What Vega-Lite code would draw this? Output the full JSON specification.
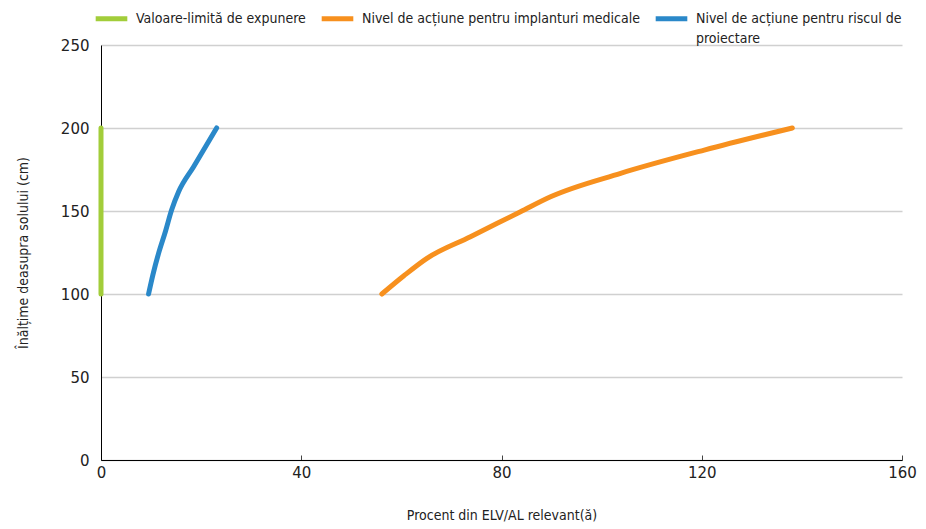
{
  "$schema": "https://vega.github.io/schema/vega-lite/v6.json",
  "width": 801,
  "height": 415,
  "autosize": "none",
  "padding": {"left": 101, "top": 45, "right": 24, "bottom": 69},
  "background": "white",
  "config": {
    "view": {"stroke": null},
    "font": "DejaVu Sans Condensed, Liberation Sans, sans-serif"
  },
  "data": {
    "values": [
      {"serie": "Valoare-limită de expunere", "ord": 1, "x": 0, "y": 100},
      {"serie": "Valoare-limită de expunere", "ord": 2, "x": 0, "y": 200},
      {"serie": "Nivel de acțiune pentru implanturi medicale", "ord": 1, "x": 56.1, "y": 100},
      {"serie": "Nivel de acțiune pentru implanturi medicale", "ord": 2, "x": 60.5, "y": 111},
      {"serie": "Nivel de acțiune pentru implanturi medicale", "ord": 3, "x": 65.1, "y": 121.5},
      {"serie": "Nivel de acțiune pentru implanturi medicale", "ord": 4, "x": 73.8, "y": 134.5},
      {"serie": "Nivel de acțiune pentru implanturi medicale", "ord": 5, "x": 83.8, "y": 149.6},
      {"serie": "Nivel de acțiune pentru implanturi medicale", "ord": 6, "x": 89.8, "y": 158.6},
      {"serie": "Nivel de acțiune pentru implanturi medicale", "ord": 7, "x": 103.8, "y": 172.7},
      {"serie": "Nivel de acțiune pentru implanturi medicale", "ord": 8, "x": 120.5, "y": 186.7},
      {"serie": "Nivel de acțiune pentru implanturi medicale", "ord": 9, "x": 138.1, "y": 200},
      {"serie": "Nivel de acțiune pentru riscul de proiectare", "ord": 1, "x": 9.5, "y": 100},
      {"serie": "Nivel de acțiune pentru riscul de proiectare", "ord": 2, "x": 10.4, "y": 112},
      {"serie": "Nivel de acțiune pentru riscul de proiectare", "ord": 3, "x": 11.5, "y": 124.5},
      {"serie": "Nivel de acțiune pentru riscul de proiectare", "ord": 4, "x": 12.9, "y": 138},
      {"serie": "Nivel de acțiune pentru riscul de proiectare", "ord": 5, "x": 14.1, "y": 150.6},
      {"serie": "Nivel de acțiune pentru riscul de proiectare", "ord": 6, "x": 15.5, "y": 161.6},
      {"serie": "Nivel de acțiune pentru riscul de proiectare", "ord": 7, "x": 18.5, "y": 176.7},
      {"serie": "Nivel de acțiune pentru riscul de proiectare", "ord": 8, "x": 23.1, "y": 200}
    ]
  },
  "mark": {"type": "line", "strokeWidth": 5, "strokeCap": "round", "strokeJoin": "round", "interpolate": "monotone"},
  "encoding": {
    "x": {
      "field": "x", "type": "quantitative",
      "scale": {"domain": [0, 160], "nice": false, "zero": false},
      "axis": {
        "values": [0, 40, 80, 120, 160],
        "title": "Procent din ELV/AL relevant(ă)",
        "titleFont": "DejaVu Sans Condensed, Liberation Sans, sans-serif",
        "titleFontSize": 14,
        "titleFontWeight": "normal",
        "titleColor": "#222222",
        "titlePadding": 28,
        "labelFont": "DejaVu Sans",
        "labelFontSize": 15,
        "labelColor": "#222222",
        "labelPadding": 10,
        "labelFlush": false,
        "grid": false,
        "domainColor": "#000000",
        "domainWidth": 1,
        "tickColor": "#444444",
        "tickSize": -5,
        "tickWidth": 1
      }
    },
    "y": {
      "field": "y", "type": "quantitative",
      "scale": {"domain": [0, 250], "nice": false},
      "axis": {
        "values": [0, 50, 100, 150, 200, 250],
        "title": "Înălțime deasupra solului (cm)",
        "titleFont": "DejaVu Sans Condensed, Liberation Sans, sans-serif",
        "titleFontSize": 14,
        "titleFontWeight": "normal",
        "titleColor": "#222222",
        "titlePadding": 30,
        "labelFont": "DejaVu Sans",
        "labelFontSize": 15,
        "labelColor": "#222222",
        "labelPadding": 12,
        "labelFlush": false,
        "ticks": false,
        "grid": true,
        "gridColor": "#d0d0d0",
        "gridWidth": 1.5,
        "domainColor": "#000000",
        "domainWidth": 1
      }
    },
    "color": {
      "field": "serie", "type": "nominal",
      "sort": ["Valoare-limită de expunere", "Nivel de acțiune pentru implanturi medicale", "Nivel de acțiune pentru riscul de proiectare"],
      "scale": {
        "domain": ["Valoare-limită de expunere", "Nivel de acțiune pentru implanturi medicale", "Nivel de acțiune pentru riscul de proiectare"],
        "range": ["#a2cd3a", "#f7901e", "#2a88c9"]
      },
      "legend": {
        "title": null,
        "orient": "none",
        "direction": "horizontal",
        "legendX": -8,
        "legendY": -45,
        "symbolType": "stroke",
        "symbolSize": 1000,
        "symbolStrokeWidth": 5,
        "labelFont": "DejaVu Sans Condensed, Liberation Sans, sans-serif",
        "labelFontSize": 14,
        "labelColor": "#222222",
        "labelLimit": 400,
        "labelOffset": 6,
        "columnPadding": 5,
        "labelBaseline": "middle",
        "encode": {
          "labels": {
            "update": {
              "text": {"signal": "datum.label == 'Nivel de acțiune pentru riscul de proiectare' ? ['Nivel de acțiune pentru riscul de', 'proiectare'] : [datum.label, '']"},
              "lineHeight": {"value": 20}
            }
          }
        }
      }
    },
    "order": {"field": "ord", "type": "quantitative"}
  }
}
